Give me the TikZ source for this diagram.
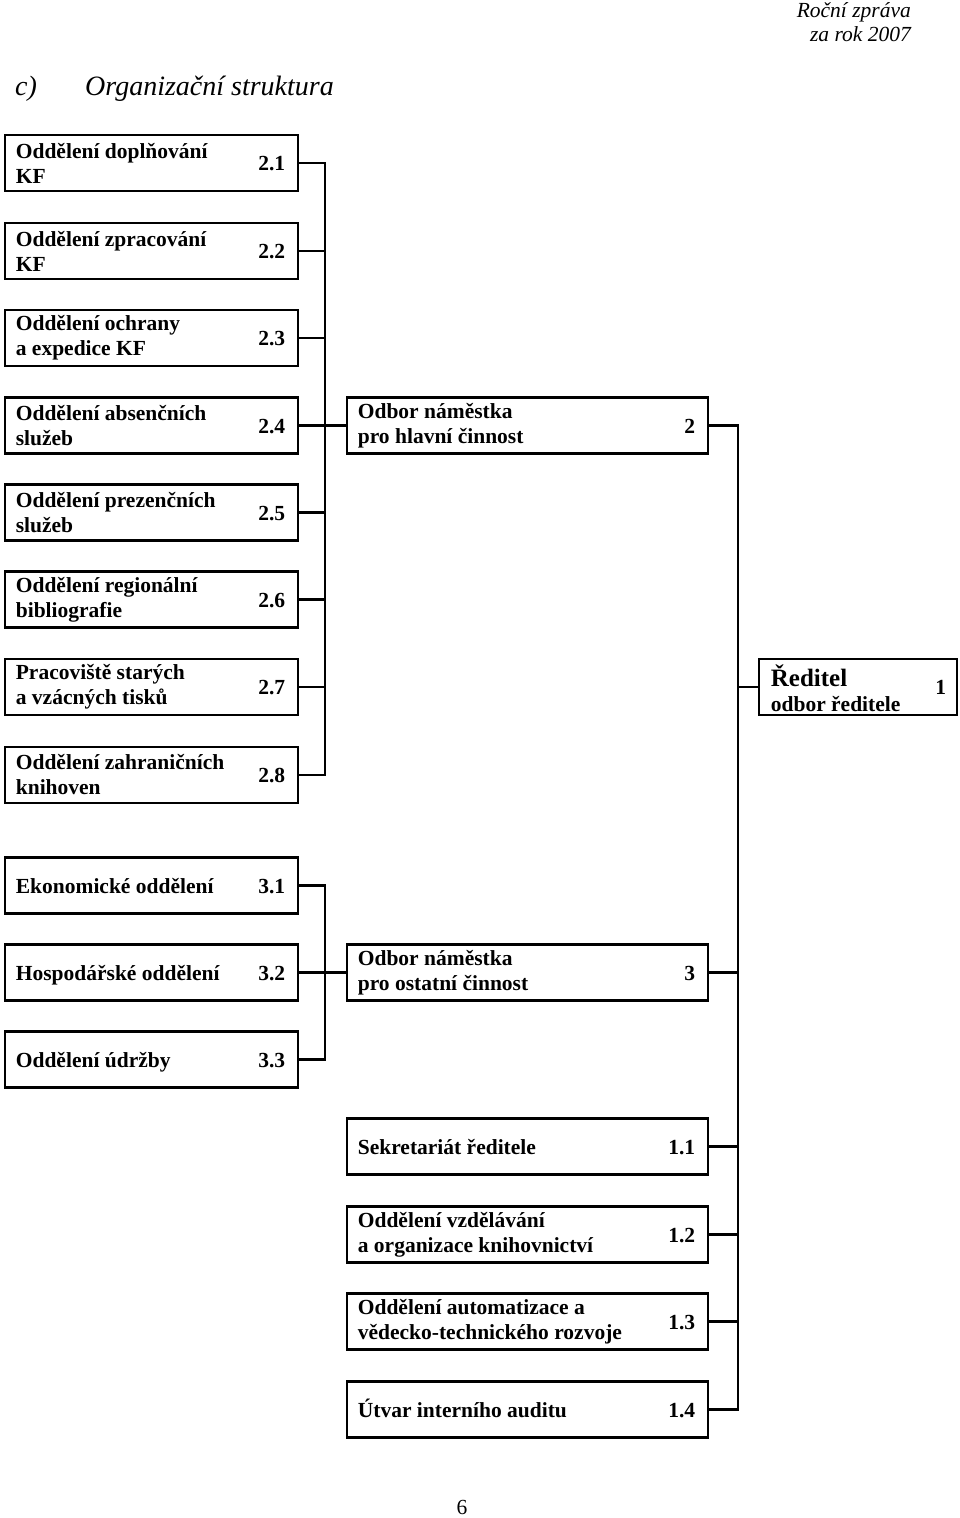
\documentclass[tikz,border=0pt]{standalone}
\usepackage{fontspec}
\setmainfont{Liberation Serif}
\begin{document}
\begin{tikzpicture}[x=1pt,y=-1pt,
 box/.style={draw, line width=2.7pt, rectangle, inner sep=0pt, minimum height=56pt},
 lbl/.style={anchor=west, align=left, inner sep=0pt, font=\fontsize{21.5}{25}\selectfont\bfseries},
 lblone/.style={anchor=base west, inner sep=0pt, font=\fontsize{21.5}{25}\selectfont\bfseries},
 num/.style={anchor=base east, inner sep=0pt, font=\fontsize{21.5}{25}\selectfont\bfseries},
 conn/.style={line width=2.7pt, line cap=rect}]
\useasboundingbox (0,0) rectangle (960,1518);
\newcommand{\orgbox}[6]{%
 \node[box, minimum width=#4pt] (#1) at (#2,#3) {};
 \node[lbl] (#1t) at ([xshift=12pt]#1.west) {#5};
 \node[num] (#1n) at ([xshift=-14pt,yshift=-7.5pt]#1.east) {#6};
}
\newcommand{\orgboxone}[6]{%
 \node[box, minimum width=#4pt] (#1) at (#2,#3) {};
 \node[lblone] (#1t) at ([xshift=12pt,yshift=-7.5pt]#1.west) {#5};
 \node[num] (#1n) at ([xshift=-14pt,yshift=-7.5pt]#1.east) {#6};
}
% header
\node[anchor=north east, align=right, inner sep=0pt, font=\fontsize{21.5}{24}\selectfont\itshape] (hdr) at (911,2) {Roční zpráva\\za rok 2007};
\node[anchor=base west, inner sep=0pt, font=\fontsize{28}{30}\selectfont\itshape] (hc) at (15,95) {c)};
\node[anchor=base west, inner sep=0pt, font=\fontsize{28}{30}\selectfont\itshape] (ht) at (85,95) {Organizační struktura};
% left column 2.x
\orgbox{b21}{151.5}{163}{293}{Oddělení doplňování\\KF}{2.1}
\orgbox{b22}{151.5}{251}{293}{Oddělení zpracování\\KF}{2.2}
\orgbox{b23}{151.5}{338}{293}{Oddělení ochrany\\a expedice KF}{2.3}
\orgbox{b24}{151.5}{425.5}{293}{Oddělení absenčních\\služeb}{2.4}
\orgbox{b25}{151.5}{512.5}{293}{Oddělení prezenčních\\služeb}{2.5}
\orgbox{b26}{151.5}{599.5}{293}{Oddělení regionální\\bibliografie}{2.6}
\orgbox{b27}{151.5}{687}{293}{Pracoviště starých\\a vzácných tisků}{2.7}
\orgbox{b28}{151.5}{775}{293}{Oddělení zahraničních\\knihoven}{2.8}
% odbor 2
\orgbox{o2}{527.5}{425.5}{361}{Odbor náměstka\\pro hlavní činnost}{2}
% reditel
\node[box, minimum width=198pt] (red) at (858,687) {};
\node[lbl] (redt) at ([xshift=13pt,yshift=-1pt]red.west) {{\fontsize{25}{27}\selectfont Ředitel}\\odbor ředitele};
\node[num] (redn) at ([xshift=-12pt,yshift=-7.5pt]red.east) {1};
% 3.x
\orgboxone{b31}{151.5}{885.5}{293}{Ekonomické oddělení}{3.1}
\orgboxone{b32}{151.5}{972.5}{293}{Hospodářské oddělení}{3.2}
\orgboxone{b33}{151.5}{1059.5}{293}{Oddělení údržby}{3.3}
\orgbox{o3}{527.5}{972.5}{361}{Odbor náměstka\\pro ostatní činnost}{3}
% 1.x
\orgboxone{b11}{527.5}{1146.5}{361}{Sekretariát ředitele}{1.1}
\orgbox{b12}{527.5}{1234.5}{361}{Oddělení vzdělávání\\a organizace knihovnictví}{1.2}
\orgbox{b13}{527.5}{1321.5}{361}{Oddělení automatizace a\\vědecko-technického rozvoje}{1.3}
\orgboxone{b14}{527.5}{1409.5}{361}{Útvar interního auditu}{1.4}
% page number
\node[inner sep=0pt, font=\fontsize{21.5}{24}\selectfont] (pg) at (462,1507) {6};
% connectors
\coordinate (busL) at (325,0);
\coordinate (busR) at (738,0);
\foreach \n in {b21,b22,b23,b24,b25,b26,b27,b28,b31,b32,b33}
  \draw[conn] (\n.east) -- (\n.east -| busL);
\draw[conn] (b21.east -| busL) -- (b28.east -| busL);
\draw[conn] (busL |- o2.west) -- (o2.west);
\draw[conn] (b31.east -| busL) -- (b33.east -| busL);
\draw[conn] (busL |- o3.west) -- (o3.west);
\draw[conn] (o2.east) -- (o2.east -| busR) -- (b14.east -| busR);
\draw[conn] (busR |- red.west) -- (red.west);
\foreach \n in {o3,b11,b12,b13,b14}
  \draw[conn] (\n.east) -- (\n.east -| busR);
\end{tikzpicture}
\end{document}
